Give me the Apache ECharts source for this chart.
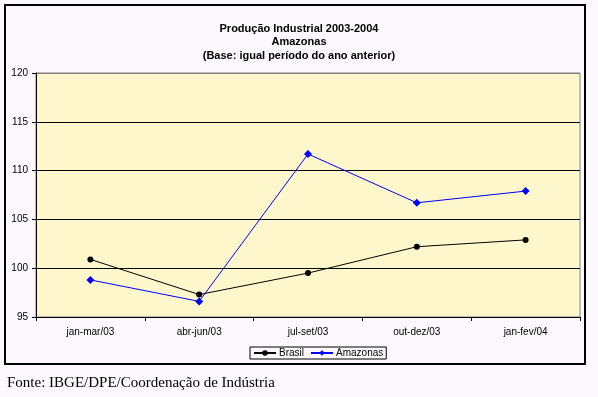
<!DOCTYPE html>
<html>
  <head>
    <meta charset="utf-8">
    <title>Produção Industrial 2003-2004</title>
    <script src="https://cdn.jsdelivr.net/npm/echarts@6/dist/echarts.min.js"></script>
    <style type="text/css">
      body { margin: 0; background: #fcf8fe; }
      #chart { width: 598px; height: 397px; }
    </style>
  </head>
  <body>
    <div id="chart"></div>
    <script type="text/javascript">
      // dados
      var periodos = ['jan-mar/03', 'abr-jun/03', 'jul-set/03', 'out-dez/03', 'jan-fev/04'];
      var brasil = [100.9, 97.3, 99.5, 102.2, 102.9];
      var amazonas = [98.8, 96.6, 111.7, 106.7, 107.9];
      var yTicks = { min: 95, max: 120, step: 5 };

      var chart = echarts.init(document.getElementById('chart'));

      var option = {
        backgroundColor: '#fcf8fe',
        animation: false,
        title: {
          text: 'Produção Industrial 2003-2004\nAmazonas\n(Base: igual período do ano anterior)',
          left: 'center',
          top: 17,
          textStyle: {
            fontFamily: 'Arial, Liberation Sans',
            fontSize: 11,
            fontWeight: 'bold',
            lineHeight: 13.5,
            color: '#000'
          }
        },
        legend: {
          left: 250,
          top: 347,
          padding: [1, 3],
          itemGap: 6,
          itemWidth: 22,
          itemHeight: 7,
          borderColor: '#000',
          borderWidth: 1,
          textStyle: { fontFamily: 'Arial, Liberation Sans', fontSize: 10, color: '#000', padding: [0, 0, 0, -2] },
          data: ['Brasil', 'Amazonas']
        },
        grid: {
          left: 36,
          right: 18,
          top: 73,
          bottom: 80,
          show: true,
          backgroundColor: '#fff7cc',
          borderColor: '#808080',
          borderWidth: 1
        },
        xAxis: {
          type: 'category',
          data: periodos,
          boundaryGap: true,
          axisLine: { lineStyle: { color: '#000', width: 1 } },
          axisTick: { show: true, length: 4, lineStyle: { color: '#000' } },
          axisLabel: { color: '#000', fontSize: 10, fontFamily: 'Arial, Liberation Sans', margin: 10 }
        },
        yAxis: {
          type: 'value',
          min: yTicks.min,
          max: yTicks.max,
          interval: yTicks.step,
          axisLine: { show: true, lineStyle: { color: '#000', width: 1 } },
          axisTick: { show: true, length: 4, lineStyle: { color: '#000' } },
          axisLabel: { color: '#000', fontSize: 10, fontFamily: 'Arial, Liberation Sans', margin: 8 },
          splitLine: { show: true, lineStyle: { color: ['#000', '#000', '#000', '#000', '#000', '#808080'], width: 1 } }
        },
        series: [
          {
            name: 'Brasil',
            type: 'line',
            data: brasil,
            symbol: 'circle',
            symbolSize: 6,
            color: '#000',
            lineStyle: { color: '#000', width: 1 },
            itemStyle: { color: '#000' }
          },
          {
            name: 'Amazonas',
            type: 'line',
            data: amazonas,
            symbol: 'diamond',
            symbolSize: 8,
            color: '#0000ff',
            lineStyle: { color: '#0000ff', width: 1 },
            itemStyle: { color: '#0000ff' }
          }
        ],
        graphic: [
          {
            type: 'rect',
            shape: { x: 5, y: 5, width: 580, height: 359 },
            style: { fill: 'none', stroke: '#000', lineWidth: 2 },
            silent: true,
            z: 100
          },
          {
            type: 'text',
            left: 7,
            top: 376,
            style: {
              text: 'Fonte: IBGE/DPE/Coordenação de Indústria',
              font: '15px "Liberation Serif", "Times New Roman", serif',
              fill: '#000'
            }
          }
        ]
      };
      chart.setOption(option);
    </script>
  </body>
</html>
